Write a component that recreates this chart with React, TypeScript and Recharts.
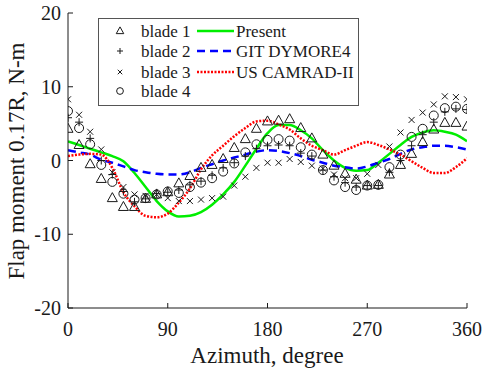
import { ComposedChart, Line, Scatter, XAxis, YAxis } from 'recharts';

const AZIMUTH = [0, 10, 20, 30, 40, 50, 60, 70, 80, 90, 100, 110, 120, 130, 140, 150, 160, 170, 180,
  190, 200, 210, 220, 230, 240, 250, 260, 270, 280, 290, 300, 310, 320, 330, 340, 350, 360];

// test data, one value per azimuth station
const BLADE_1 = [4.3, 2.1, -0.5, -2.5, -5.1, -6.3, -6.3, -5.2, -4.6, -4.3, -3.1, -2.1, -1.0, -0.6, 0.2, 1.7, 2.9, 4.3, 5.3,
  5.4, 5.6, 4.4, 3.0, 0.8, -0.7, -1.8, -2.6, -3.4, -3.3, -1.9, -0.6, 0.9, 2.5, 4.2, 5.1, 5.1, 4.6];
const BLADE_2 = [5.8, 5.2, 3.0, 0.0, -1.9, -4.2, -5.6, -5.2, -4.5, -4.3, -4.0, -3.3, -2.8, -2.0, -1.0, -0.3, 0.6, 1.6, 2.0,
  2.1, 2.0, 1.0, 0.6, -1.3, -2.2, -3.0, -3.6, -3.4, -3.4, -1.6, 0.0, 2.0, 3.5, 5.2, 6.6, 7.0, 6.9];
const BLADE_3 = [8.3, 6.2, 3.9, 1.5, -1.6, -3.6, -4.6, -4.8, -4.6, -5.1, -5.5, -5.5, -5.3, -5.1, -4.9, -3.4, -2.2, -1.0, -0.3,
  -0.3, 0.2, -0.2, -0.7, -1.1, -1.9, -2.4, -2.4, -1.8, -0.6, 1.9, 3.8, 5.5, 6.5, 7.6, 8.7, 8.6, 8.3];
const BLADE_4 = [6.7, 4.4, 2.2, -0.6, -2.9, -4.5, -5.3, -5.1, -4.6, -4.2, -4.4, -3.6, -3.0, -2.4, -1.5, -0.4, 1.1, 2.2, 2.8,
  2.9, 2.7, 1.8, 0.8, -1.3, -2.7, -3.6, -4.0, -3.4, -3.3, -0.9, 0.8, 3.2, 4.3, 6.1, 7.1, 7.3, 7.0];

// predictions
const PRESENT = [2.6, 2.1, 1.6, 1.1, 0.6, -0.1, -1.7, -3.6, -5.5, -6.9, -7.6, -7.5, -7.0, -6.0, -4.6, -2.9, -0.7, 1.6, 3.7,
  4.8, 4.8, 4.1, 3.0, 1.4, 0.0, -1.0, -1.4, -1.3, -0.3, 0.9, 2.1, 3.2, 3.8, 4.1, 3.9, 3.5, 2.6];
const GIT_DYMORE4 = [1.4, 1.1, 0.8, 0.1, -0.3, -0.8, -1.3, -1.6, -1.8, -1.9, -1.9, -1.6, -1.0, -0.5, 0.0, 0.4, 0.8, 1.2, 1.4,
  1.3, 1.0, 0.6, 0.1, -0.3, -0.7, -0.9, -1.1, -0.8, -0.3, 0.2, 0.9, 1.5, 1.8, 2.0, 2.0, 1.8, 1.5];
const US_CAMRAD = [0.6, 0.8, 0.9, 0.8, -1.0, -4.3, -6.2, -7.5, -7.7, -7.2, -5.7, -3.8, -1.2, 0.7, 2.0, 3.3, 4.4, 5.3, 5.4,
  4.9, 4.2, 3.0, 2.0, 1.4, 0.8, 1.4, 2.0, 2.5, 2.1, 1.5, 0.8, -0.1, -1.0, -1.7, -1.7, -0.9, 0.3];

const X_TICKS = [0, 90, 180, 270, 360];
const Y_TICKS = [-20, -10, 0, 10, 20];

const rows = AZIMUTH.map((az, i) => ({
  az,
  b1: BLADE_1[i],
  b2: BLADE_2[i],
  b3: BLADE_3[i],
  b4: BLADE_4[i],
  present: PRESENT[i],
  git: GIT_DYMORE4[i],
  us: US_CAMRAD[i],
}));

const FONT = "'Liberation Serif', 'Times New Roman', serif";
const INK = '#1a1a1a';

const Triangle = ({ cx, cy, s = 1 }: any) => (
  <polygon
    points={`${cx},${cy - 5.5 * s} ${cx - 5 * s},${cy + 3.5 * s} ${cx + 5 * s},${cy + 3.5 * s}`}
    fill="none" stroke={INK} strokeWidth={1}
  />
);
const Plus = ({ cx, cy, s = 1 }: any) => (
  <g stroke={INK} strokeWidth={1}>
    <line x1={cx - 4 * s} y1={cy} x2={cx + 4 * s} y2={cy} />
    <line x1={cx} y1={cy - 4 * s} x2={cx} y2={cy + 4 * s} />
  </g>
);
const Cross = ({ cx, cy, s = 1 }: any) => (
  <g stroke={INK} strokeWidth={1}>
    <line x1={cx - 3 * s} y1={cy - 3 * s} x2={cx + 3 * s} y2={cy + 3 * s} />
    <line x1={cx - 3 * s} y1={cy + 3 * s} x2={cx + 3 * s} y2={cy - 3 * s} />
  </g>
);
const Ring = ({ cx, cy, s = 1 }: any) => (
  <circle cx={cx} cy={cy} r={4.5 * s} fill="none" stroke={INK} strokeWidth={1} />
);

function LegendBox() {
  const rowsY = [13, 33, 54, 73];
  const labels = ['blade 1', 'blade 2', 'blade 3', 'blade 4'];
  const marks = [Triangle, Plus, Cross, Ring];
  const lines = [
    { name: 'Present', color: '#00ee00', dash: undefined },
    { name: 'GIT DYMORE4', color: '#0000ff', dash: '8 5' },
    { name: 'US CAMRAD-II', color: '#ff0000', dash: '2 1.5' },
  ];
  return (
    <svg width={262} height={89} style={{ position: 'absolute', left: 98, top: 18 }}>
      <rect x={0.5} y={0.5} width={260} height={87} fill="#fff" stroke="#555" />
      {labels.map((t, i) => {
        const M = marks[i];
        return (
          <g key={t}>
            <M cx={22} cy={rowsY[i]} s={0.75} />
            <text x={43} y={rowsY[i] + 6} fontFamily={FONT} fontSize={17} fill={INK}>{t}</text>
          </g>
        );
      })}
      {lines.map((l, i) => (
        <g key={l.name}>
          <line x1={99} x2={136} y1={rowsY[i]} y2={rowsY[i]} stroke={l.color} strokeWidth={2.5} strokeDasharray={l.dash} />
          <text x={138} y={rowsY[i] + 6} fontFamily={FONT} fontSize={17} fill={INK}>{l.name}</text>
        </g>
      ))}
    </svg>
  );
}

export default function App() {
  return (
    <div style={{ position: 'absolute', left: 0, top: 0, width: 483, height: 375, background: '#fff' }}>
      <ComposedChart width={483} height={375} data={rows} margin={{ top: 13, right: 16, bottom: 0, left: 0 }}>
        <XAxis
          dataKey="az" type="number" domain={[0, 360]} ticks={X_TICKS} allowDataOverflow
          height={67} tickSize={-5} tickMargin={19} stroke={INK}
          tick={{ fill: INK, fontSize: 20, fontFamily: FONT }}
          label={{
            content: () => (
              <text x={267} y={363} textAnchor="middle" fontFamily={FONT} fontSize={23} fill={INK}>Azimuth, degree</text>
            ),
          }}
        />
        <XAxis
          xAxisId="top" orientation="top" dataKey="az" type="number" domain={[0, 360]} ticks={X_TICKS}
          allowDataOverflow height={0} tickSize={-5} stroke={INK} tickFormatter={() => ''}
        />
        <YAxis
          type="number" domain={[-20, 20]} ticks={Y_TICKS} allowDataOverflow
          width={68} tickSize={-5} tickMargin={12} stroke={INK}
          tick={{ fill: INK, fontSize: 20, fontFamily: FONT }}
          label={{
            content: () => (
              <text x={24} y={161} transform="rotate(-90 24 161)" textAnchor="middle" fontFamily={FONT} fontSize={23} fill={INK}>
                Flap moment 0.17R, N-m
              </text>
            ),
          }}
        />
        <YAxis
          yAxisId="right" orientation="right" type="number" domain={[-20, 20]} ticks={Y_TICKS}
          allowDataOverflow width={0} tickSize={-5} stroke={INK} tickFormatter={() => ''}
        />
        <Scatter dataKey="b1" shape={(p: any) => <Triangle cx={p.cx} cy={p.cy} />} isAnimationActive={false} />
        <Scatter dataKey="b2" shape={(p: any) => <Plus cx={p.cx} cy={p.cy} />} isAnimationActive={false} />
        <Scatter dataKey="b3" shape={(p: any) => <Cross cx={p.cx} cy={p.cy} />} isAnimationActive={false} />
        <Scatter dataKey="b4" shape={(p: any) => <Ring cx={p.cx} cy={p.cy} />} isAnimationActive={false} />
        <Line dataKey="present" type="monotone" stroke="#00ee00" strokeWidth={2.5} dot={false} isAnimationActive={false} />
        <Line dataKey="git" type="monotone" stroke="#0000ff" strokeWidth={2.5} strokeDasharray="8 5" dot={false} isAnimationActive={false} />
        <Line dataKey="us" type="monotone" stroke="#ff0000" strokeWidth={2.5} strokeDasharray="2 1.5" dot={false} isAnimationActive={false} />
      </ComposedChart>
      <LegendBox />
    </div>
  );
}
